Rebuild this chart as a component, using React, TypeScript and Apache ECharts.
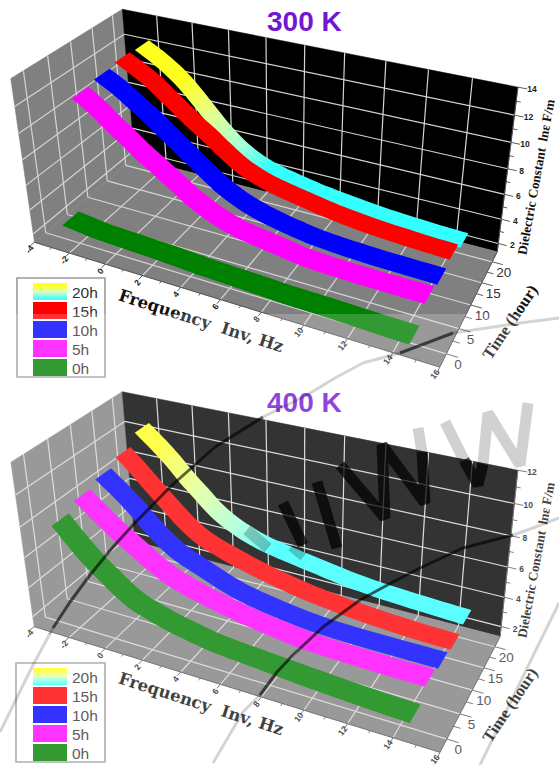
import React, { useEffect, useRef } from "react";
import * as echarts from "echarts";

// ---------- data ----------
const legendLabels = ["20h", "15h", "10h", "5h", "0h"];
const hours = [20, 15, 10, 5, 0];
const freqTicks = [-4, -2, 0, 2, 4, 6, 8, 10, 12, 14, 16];
const timeTicks = [0, 5, 10, 15, 20];
const zTicks300 = [2, 4, 6, 8, 10, 12, 14];
const zTicks400 = [2, 4, 6, 8, 10, 12];
const freq = [-2.4, -1.5, -0.7, 0, 0.8, 1.5, 2.2, 3.1, 4, 5, 6, 7.5, 9, 11, 13, 14.6];

const eps300h20 = [12.1, 11.38, 10.62, 9.78, 8.58, 7.46, 6.41, 5.33, 4.61, 4.11, 3.78, 3.36, 3.06, 2.74, 2.55, 2.45];
const eps300h15 = [12.2, 11.5, 10.8, 10.0, 9.1, 8.3, 7.6, 6.6, 5.7, 5.05, 4.65, 4.2, 3.8, 3.45, 3.25, 3.15];
const eps300h10 = [12.0, 11.3, 10.5, 9.8, 8.9, 8.1, 7.3, 6.3, 5.35, 4.6, 4.1, 3.6, 3.25, 3.05, 2.95, 2.9];
const eps300h5 = [11.76, 10.9, 9.95, 9.2, 8.3, 7.6, 6.9, 5.95, 5.2, 4.55, 4.15, 3.8, 3.45, 3.3, 3.25, 3.24];
const eps300h0 = [3.2, 3.05, 2.9, 2.85, 2.8, 2.75, 2.7, 2.63, 2.55, 2.45, 2.4, 2.3, 2.2, 2.15, 2.05, 2.0];

const eps400h20 = [10.4, 9.5, 8.6, 7.7, 6.8, 6.0, 5.4, 4.85, 4.45, 4.15, 3.92, 3.6, 3.3, 3.05, 2.9, 2.8];
const eps400h15 = [9.7, 8.7, 7.75, 6.95, 6.05, 5.4, 4.95, 4.55, 4.2, 3.85, 3.57, 3.2, 2.95, 2.7, 2.55, 2.5];
const eps400h10 = [9.25, 8.4, 7.55, 6.7, 5.85, 5.25, 4.85, 4.4, 3.95, 3.55, 3.3, 3.0, 2.8, 2.72, 2.7, 2.7];
const eps400h5 = [8.9, 8.0, 7.25, 6.65, 6.0, 5.45, 5.0, 4.6, 4.3, 4.0, 3.75, 3.45, 3.2, 3.1, 3.05, 3.05];
const eps400h0 = [8.4, 7.2, 6.25, 5.55, 4.8, 4.3, 4.0, 3.65, 3.4, 3.15, 3.0, 2.85, 2.7, 2.52, 2.38, 2.3];

// ---------- styles ----------
const W = 559, H = 765;
const ribbonColors = ["", "#ff0000", "#0000ff", "#ff00ff", "#008000"];
const yellowCyan = [
  { offset: 0, color: "#ffff20" },
  { offset: 0.35, color: "#e4ff90" },
  { offset: 0.7, color: "#a8ffd8" },
  { offset: 1, color: "#33ffff" },
];
const HALF_WIDTH = 1.85;
const T0 = -2.5, T1 = 22.5, F0 = -4, F1 = 16;

// ribbon outline: both edges are drawn as curves through the projected data points
function spline(ctx: any, pts: number[][]) {
  const n = pts.length;
  for (let i = 0; i < n - 1; i++) {
    const p0 = pts[Math.max(i - 1, 0)], p1 = pts[i], p2 = pts[i + 1], p3 = pts[Math.min(i + 2, n - 1)];
    ctx.bezierCurveTo(
      p1[0] + (p2[0] - p0[0]) / 6, p1[1] + (p2[1] - p0[1]) / 6,
      p2[0] - (p3[0] - p1[0]) / 6, p2[1] - (p3[1] - p1[1]) / 6,
      p2[0], p2[1]
    );
  }
}
echarts.graphic.registerShape("ribbon", echarts.graphic.extendShape({
  shape: { far: [] as number[][], near: [] as number[][] },
  buildPath(ctx: any, shape: any) {
    const far = shape.far, near = [...shape.near].reverse();
    if (!far.length) return;
    ctx.moveTo(far[0][0], far[0][1]);
    spline(ctx, far);
    ctx.lineTo(near[0][0], near[0][1]);
    spline(ctx, near);
    ctx.closePath();
  },
}));

type Corner = [number, number, number, number, number];
function fitProjection(corners: Corner[], zMin: number, zMax: number) {
  const norm = (f: number, t: number, z: number) => [(f - F0) / (F1 - F0), (t - T0) / (T1 - T0), (z - zMin) / (zMax - zMin)];
  const rows: number[][] = [];
  const rhs: number[] = [];
  corners.forEach(([f, t, z, u, v]) => {
    const [X, Y, Z] = norm(f, t, z);
    rows.push([X, Y, Z, 1, 0, 0, 0, 0, -u * X, -u * Y, -u * Z]); rhs.push(u);
    rows.push([0, 0, 0, 0, X, Y, Z, 1, -v * X, -v * Y, -v * Z]); rhs.push(v);
  });
  const n = 11;
  const M: number[][] = [];
  for (let i = 0; i < n; i++) {
    const r: number[] = [];
    for (let j = 0; j < n; j++) r.push(rows.reduce((s, row) => s + row[i] * row[j], 0));
    r.push(rows.reduce((s, row, k) => s + row[i] * rhs[k], 0));
    M.push(r);
  }
  for (let i = 0; i < n; i++) {
    let piv = i;
    for (let k = i + 1; k < n; k++) if (Math.abs(M[k][i]) > Math.abs(M[piv][i])) piv = k;
    [M[i], M[piv]] = [M[piv], M[i]];
    for (let k = 0; k < n; k++) {
      if (k === i) continue;
      const c = M[k][i] / M[i][i];
      for (let j = i; j <= n; j++) M[k][j] -= c * M[i][j];
    }
  }
  const p = M.map((r, i) => r[n] / r[i]);
  return (f: number, t: number, z: number): [number, number] => {
    const [X, Y, Z] = norm(f, t, z);
    const w = p[8] * X + p[9] * Y + p[10] * Z + 1;
    return [(p[0] * X + p[1] * Y + p[2] * Z + p[3]) / w, (p[4] * X + p[5] * Y + p[6] * Z + p[7]) / w];
  };
}

const zMin = 1.3;
const proj300 = fitProjection([
  [F0, T0, zMin, 34, 242], [F1, T0, zMin, 440, 367], [F1, T1, zMin, 497, 252], [F0, T1, zMin, 135, 158],
  [F0, T0, 14, 11, 79], [F0, T1, 14, 122, 9], [F1, T1, 14, 518, 87],
], zMin, 14);
const proj400 = fitProjection([
  [F0, T0, zMin, 34, 627], [F1, T0, zMin, 440, 752], [F1, T1, zMin, 500, 637], [F0, T1, zMin, 135, 541],
  [F0, T0, 12, 11, 462], [F0, T1, 12, 122, 392], [F1, T1, 12, 518, 470],
], zMin, 12);

type Proj = typeof proj300;
const FONT_SANS = "Liberation Sans";
const FONT_SERIF = "Liberation Serif";

function frameSeries(proj: Proj, zMax: number, zTicks: number[], backFill: string, sideFill: string, dy: number) {
  return {
    type: "custom", coordinateSystem: "cartesian2d", silent: true, z: 1, data: [[0, 0]],
    renderItem: (_: any, api: any) => {
      const P = (f: number, t: number, z: number) => api.coord(proj(f, t, z));
      const poly = (pts: number[][], fill: string) => ({ type: "polygon", shape: { points: pts }, style: { fill, stroke: fill, lineWidth: 0.5 } });
      const seg = (a: number[], b: number[], stroke: string, lineWidth = 1.2) => ({ type: "line", shape: { x1: a[0], y1: a[1], x2: b[0], y2: b[1] }, style: { stroke, lineWidth } });
      const grid = "#d4d4d4";
      const ch: any[] = [
        poly([P(F0, T0, zMin), P(F0, T1, zMin), P(F0, T1, zMax), P(F0, T0, zMax)], sideFill),
        poly([P(F0, T1, zMin), P(F1, T1, zMin), P(F1, T1, zMax), P(F0, T1, zMax)], backFill),
        poly([P(F0, T0, zMin), P(F1, T0, zMin), P(F1, T1, zMin), P(F0, T1, zMin)], sideFill),
      ];
      freqTicks.slice(1, -1).forEach((f) => {
        ch.push(seg(P(f, T1, zMin), P(f, T1, zMax), grid));
        ch.push(seg(P(f, T0, zMin), P(f, T1, zMin), grid));
      });
      timeTicks.forEach((t) => {
        ch.push(seg(P(F0, t, zMin), P(F0, t, zMax), grid));
        ch.push(seg(P(F0, t, zMin), P(F1, t, zMin), grid));
      });
      zTicks.forEach((z) => {
        if (z >= zMax) return;
        ch.push(seg(P(F0, T1, z), P(F1, T1, z), grid));
        ch.push(seg(P(F0, T0, z), P(F0, T1, z), grid));
      });
      const tick = "#333333";
      ch.push(seg(P(F0, T0, zMin), P(F1, T0, zMin), "#555555", 1));
      ch.push(seg(P(F1, T0, zMin), P(F1, T1, zMin), "#555555", 1));
      ch.push(seg(P(F1, T1, zMin), P(F1, T1, zMax), "#555555", 1));
      for (let f = F0; f <= F1; f++) {
        const major = (f - F0) % 2 === 0;
        ch.push(seg(P(f, T0, zMin), P(f, T0 - (major ? 0.9 : 0.5), zMin), tick, 0.8));
      }
      freqTicks.forEach((f) => {
        const p = P(f, T0, zMin);
        ch.push({ type: "text", x: p[0] - 5, y: p[1] + 7, rotation: 0.9,
          style: { text: String(f), fontFamily: FONT_SANS, fontWeight: "bold", fontSize: 8.5, fill: "#222222", align: "center", verticalAlign: "middle" } });
      });
      for (let t = 0; t <= 20; t += 2.5) {
        const major = t % 5 === 0;
        ch.push(seg(P(F1, t, zMin), P(F1 + (major ? 0.5 : 0.3), t, zMin), tick, 0.8));
      }
      timeTicks.forEach((t) => {
        const p = P(F1, t, zMin);
        ch.push({ type: "text", x: p[0] + 11.5, y: p[1] + 10.5,
          style: { text: String(t), fontFamily: FONT_SANS, fontSize: 13.5, fill: "#333333", align: "center", verticalAlign: "middle" } });
      });
      for (let z = 2; z <= zMax; z++) {
        const major = z % 2 === 0;
        ch.push(seg(P(F1, T1, z), P(F1 + (major ? 0.4 : 0.2), T1, z), tick, 0.8));
      }
      zTicks.forEach((z) => {
        const p = P(F1, T1, z);
        ch.push({ type: "text", x: p[0] + 14, y: p[1] + 2,
          style: { text: String(z), fontFamily: FONT_SANS, fontWeight: "bold", fontSize: 8.5, fill: "#222222", align: "center", verticalAlign: "middle" } });
      });
      ch.push({ type: "text", x: 201, y: 321 + dy, rotation: -0.31,
        style: { text: "Frequency  Inv, Hz", fontFamily: "DejaVu Serif", fontWeight: "bold", fontSize: 16.5, fill: "#111111", align: "center", verticalAlign: "middle" } });
      ch.push({ type: "text", x: 510, y: 322 + dy, rotation: 0.98,
        style: { text: "Time (hour)", fontFamily: FONT_SERIF, fontWeight: "bold", fontSize: 16.5, fill: "#111111", align: "center", verticalAlign: "middle" } });
      ch.push({ type: "text", x: 536, y: 177 + dy, rotation: 1.39,
        style: { text: "Dielectric Constant  ln\u03b5 F/m", fontFamily: FONT_SERIF, fontWeight: "bold", fontSize: 13.2, fill: "#111111", align: "center", verticalAlign: "middle" } });
      return { type: "group", children: ch };
    },
  };
}

function ribbonSeries(proj: Proj, time: number, eps: number[], colorIndex: number, z: number, gradFrom: number[], gradTo: number[]) {
  return {
    type: "custom", coordinateSystem: "cartesian2d", silent: true, z,
    name: legendLabels[colorIndex],
    data: freq.map((f, i) => [f, eps[i]]),
    renderItem: (params: any, api: any) => {
      if (params.dataIndex !== 0) return null;
      const near = freq.map((f, i) => api.coord(proj(f, time - HALF_WIDTH, eps[i])));
      const far = freq.map((f, i) => api.coord(proj(f, time + HALF_WIDTH, eps[i])));
      let fill: any = ribbonColors[colorIndex];
      if (colorIndex === 0) {
        const a = api.coord(proj(gradFrom[0], time, gradFrom[1]));
        const b = api.coord(proj(gradTo[0], time, gradTo[1]));
        fill = new echarts.graphic.LinearGradient(a[0], a[1], b[0], b[1], yellowCyan, true);
      }
      return { type: "ribbon", shape: { far, near }, style: { fill, stroke: "none" } };
    },
  };
}

function legendGraphics(dy: number, left: number) {
  const rowsY = [283, 302, 321, 340, 359];
  const items: any[] = [
    { type: "rect", z: 50, shape: { x: left, y: 278 + dy, width: 105 - left, height: 99 }, style: { fill: "#ffffff", stroke: "#9a9a9a", lineWidth: 1.6 } },
  ];
  legendLabels.forEach((lab, i) => {
    const y = rowsY[i] + dy;
    items.push({
      type: "rect", z: 51, shape: { x: 33, y, width: 34, height: 17 },
      style: { fill: i === 0 ? new echarts.graphic.LinearGradient(0, 0, 0, 1, [
        { offset: 0.15, color: "#ffff20" }, { offset: 0.5, color: "#e0ffb0" }, { offset: 0.75, color: "#80fff0" }, { offset: 1, color: "#33ffff" },
      ]) : ribbonColors[i] },
    });
    items.push({ type: "text", z: 52, x: 72, y: y + 9, style: { text: lab, font: `15.5px "${FONT_SANS}"`, fill: "#333333", verticalAlign: "middle" } });
  });
  return items;
}

// scanned-page artefacts: watermark strokes
const stampInside: number[][][] = [
  [[263, 417], [215, 447], [170, 487], [133, 525], [113, 547], [90, 575], [70, 602], [53, 628]],
  [[513, 535], [463, 548], [420, 568], [393, 582], [360, 600], [323, 627], [293, 655], [277, 672], [260, 695]],
  [[453, 333], [400, 353]],
];
const stampOutside: number[][][] = [
  [[559, 318], [520, 323], [453, 333]],
  [[400, 353], [363, 363], [335, 378], [307, 395], [263, 417]],
  [[53, 628], [33, 665], [0, 732]],
  [[559, 518], [533, 528], [513, 535]],
  [[260, 695], [243, 712], [213, 763]],
  [[559, 603], [530, 662], [480, 765]],
];
const bigInside: number[][][] = [
  [[283, 503], [303, 545]],
  [[317, 482], [337, 548]],
  [[340, 465], [385, 518], [382, 445], [425, 503], [422, 452]],
  [[464, 460], [478, 485], [483, 464]],
];
const bigOutside: number[][][] = [
  [[422, 452], [418, 428]],
  [[445, 422], [464, 460]],
  [[483, 464], [488, 413], [520, 465], [528, 403]],
];
const bigOnRibbon: number[][][] = [
  [[247, 530], [268, 548]],
  [[292, 546], [304, 556]],
];

function stampGraphics() {
  const mk = (pts: number[][], stroke: string, lineWidth: number) => ({
    type: "polyline", z: 90, silent: true, shape: { points: pts }, style: { stroke, lineWidth, fill: "none", lineJoin: "bevel" },
  });
  return [
    ...stampOutside.map((p) => mk(p, "rgba(0,0,0,0.17)", 3)),
    ...stampInside.map((p) => mk(p, "rgba(0,0,0,0.62)", 3)),
    ...bigOutside.map((p) => mk(p, "rgba(0,0,0,0.18)", 11)),
    ...bigInside.map((p) => mk(p, "rgba(0,0,0,0.72)", 11)),
    ...bigOnRibbon.map((p) => mk(p, "rgba(0,0,0,0.22)", 11)),
  ];
}

export default function App() {
  const ref = useRef<HTMLDivElement>(null);
  useEffect(() => {
    const chart = echarts.init(ref.current!, null, { renderer: "svg", width: W, height: H });
    const sets300 = [eps300h20, eps300h15, eps300h10, eps300h5, eps300h0];
    const sets400 = [eps400h20, eps400h15, eps400h10, eps400h5, eps400h0];
    chart.setOption({
      animation: false,
      backgroundColor: "#ffffff",
      title: [
        { text: "300 K", left: 267, top: 7, padding: 0, textStyle: { color: "#7416d4", fontFamily: FONT_SANS, fontWeight: "bold", fontSize: 28 } },
        { text: "400 K", left: 267, top: 388, padding: 0, textStyle: { color: "#7416d4", fontFamily: FONT_SANS, fontWeight: "bold", fontSize: 28 } },
      ],
      grid: { left: 0, right: 0, top: 0, bottom: 0, containLabel: false },
      xAxis: { type: "value", min: 0, max: W, show: false },
      yAxis: { type: "value", min: 0, max: H, inverse: true, show: false },
      graphic: { elements: [
        ...legendGraphics(0, 17),
        ...legendGraphics(385, 16),
        { type: "rect", z: 80, silent: true, shape: { x: 0, y: 314, width: W, height: H - 314 }, style: { fill: "rgba(255,255,255,0.2)" } },
        ...stampGraphics(),
      ] },
      series: [
        frameSeries(proj300, 14, zTicks300, "#000000", "#808080", 0),
        frameSeries(proj400, 12, zTicks400, "#000000", "#808080", 383),
        ...hours.map((t, i) => ribbonSeries(proj300, t, sets300[i], i, 2 + i, [-0.3, 9.6], [4.6, 4.4])),
        ...hours.map((t, i) => ribbonSeries(proj400, t, sets400[i], i, 2 + i, [-1.5, 9.5], [5, 4.25])),
      ],
    });
    return () => chart.dispose();
  }, []);
  return <div ref={ref} style={{ position: "absolute", left: 0, top: 0, width: W, height: H }} />;
}
